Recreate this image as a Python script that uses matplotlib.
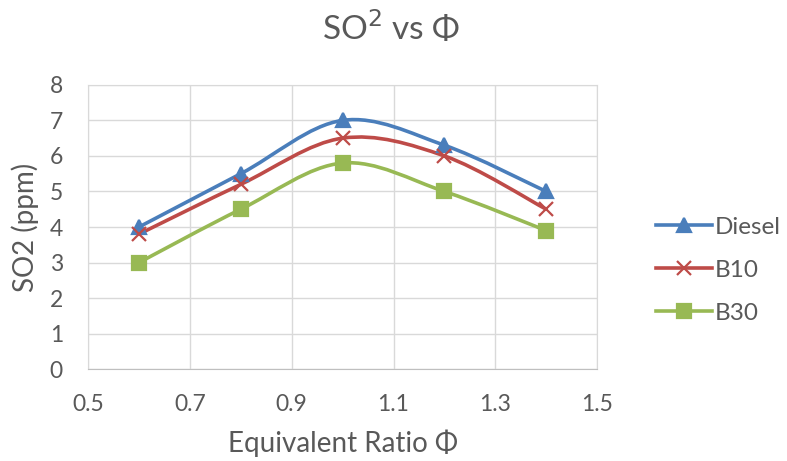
import matplotlib
matplotlib.use('Agg')
import matplotlib.pyplot as plt
from matplotlib.path import Path
from matplotlib.patches import PathPatch
from matplotlib.lines import Line2D

plt.rcParams['font.family'] = ['Lato', 'DejaVu Sans']

# data
phi = [0.6, 0.8, 1.0, 1.2, 1.4]
diesel = [4.0, 5.5, 7.0, 6.3, 5.0]
b10 = [3.8, 5.2, 6.5, 6.0, 4.5]
b30 = [3.0, 4.5, 5.8, 5.0, 3.9]
xticks = [0.5, 0.7, 0.9, 1.1, 1.3, 1.5]
yticks = [0, 1, 2, 3, 4, 5, 6, 7, 8]

grey = '#595959'
grid = '#D9D9D9'


def smooth_path(x, y):
    # excel-style smoothed line: cubic bezier through the points
    pts = list(zip(x, y))
    n = len(pts)
    verts = [pts[0]]
    codes = [Path.MOVETO]
    for i in range(n - 1):
        p0 = pts[i - 1] if i > 0 else pts[i]
        p1 = pts[i]
        p2 = pts[i + 1]
        p3 = pts[i + 2] if i + 2 < n else pts[i + 1]
        c1 = (p1[0] + (p2[0] - p0[0]) / 6, p1[1] + (p2[1] - p0[1]) / 6)
        c2 = (p2[0] - (p3[0] - p1[0]) / 6, p2[1] - (p3[1] - p1[1]) / 6)
        verts += [c1, c2, p2]
        codes += [Path.CURVE4] * 3
    return Path(verts, codes)


fig = plt.figure(figsize=(7.87, 4.61), dpi=100)
ax = fig.add_axes([0.1118, 0.199, 0.647, 0.617])

series = [
    ('Diesel', diesel, '#4A7EBB', '^', 10.5),
    ('B10', b10, '#BE4B48', 'x', 10),
    ('B30', b30, '#98B954', 's', 10),
]
handles = []
for name, vals, col, mk, ms in series:
    ax.add_patch(PathPatch(smooth_path(phi, vals), facecolor='none',
                           edgecolor=col, lw=2.6, zorder=3))
    ax.plot(phi, vals, ls='none', marker=mk, color=col, ms=ms,
            mew=1.6, zorder=4)
    handles.append(Line2D([], [], color=col, lw=2.6, marker=mk, ms=ms,
                          mew=1.6))

ax.set_xlim(0.5, 1.5)
ax.set_ylim(0, 8)
ax.set_xticks(xticks)
ax.set_yticks(yticks)
ax.set_xticklabels([str(t) for t in xticks])
ax.grid(True, color=grid, lw=1)
ax.set_axisbelow(True)
for s in ax.spines.values():
    s.set_color(grid)
ax.spines['bottom'].set_color('#BFBFBF')
ax.tick_params(length=0, labelsize=16.5, colors=grey)
ax.tick_params(axis='x', pad=17.5)
ax.tick_params(axis='y', pad=18)

ax.set_xlabel('Equivalent Ratio Φ', fontsize=20, color=grey, labelpad=11)
ax.set_ylabel('SO2 (ppm)', fontsize=20, color=grey, labelpad=8)
fig.text(0.497, 0.94, 'SO$^{2}$ vs Φ', fontsize=24, color=grey,
         ha='center', va='center')

fig.legend(handles, ['Diesel', 'B10', 'B30'], loc='center left',
           bbox_to_anchor=(0.806, 0.414), frameon=False, fontsize=17.5,
           labelcolor=grey, handlelength=2.3, handletextpad=0.1,
           labelspacing=0.9)

plt.savefig('out.png', dpi=100)
